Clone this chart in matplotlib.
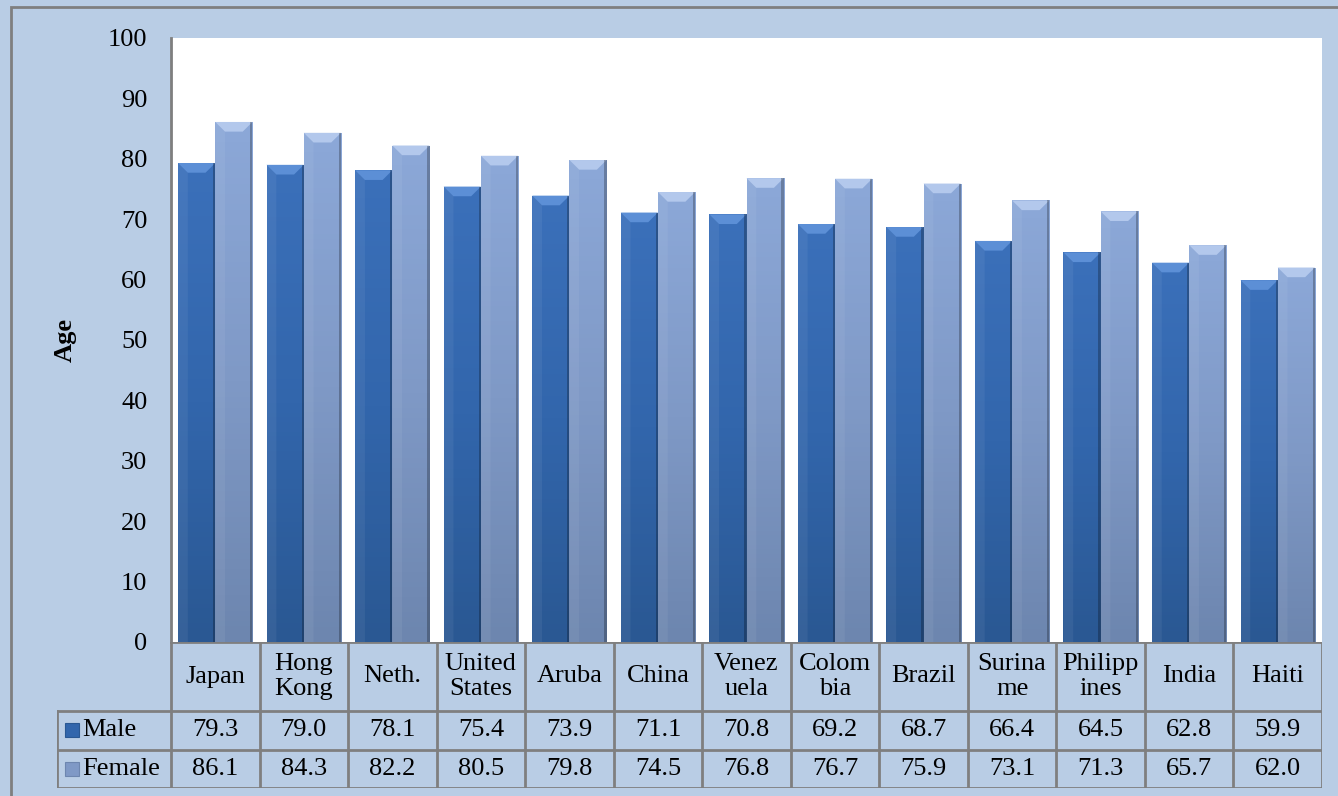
import numpy as np
import matplotlib
matplotlib.use('Agg')
import matplotlib.pyplot as plt
from matplotlib.patches import Rectangle, Polygon
from matplotlib.colors import LinearSegmentedColormap

countries = ['Japan', 'Hong\nKong', 'Neth.', 'United\nStates', 'Aruba', 'China', 'Venez\nuela',
             'Colom\nbia', 'Brazil', 'Surina\nme', 'Philipp\nines', 'India', 'Haiti']
male = [79.3, 79.0, 78.1, 75.4, 73.9, 71.1, 70.8, 69.2, 68.7, 66.4, 64.5, 62.8, 59.9]
female = [86.1, 84.3, 82.2, 80.5, 79.8, 74.5, 76.8, 76.7, 75.9, 73.1, 71.3, 65.7, 62.0]
series_names = ['Male', 'Female']
yticks = list(range(0, 101, 10))

W, H = 1338, 796
bg = '#B9CDE5'
grid_c = '#7F7F7F'
male_cmap = LinearSegmentedColormap.from_list('m', ['#2A5893', '#3266AC', '#3B70BA'])
female_cmap = LinearSegmentedColormap.from_list('f', ['#6D86AF', '#7F99C6', '#8CA8D8'])
bevel_c = ['#5C8FD6', '#B3C8EC']

plt.rcParams['font.family'] = ['Liberation Serif', 'DejaVu Serif']
FS = 19

fig = plt.figure(figsize=(W / 100, H / 100), dpi=100, facecolor=bg)

def fx(px):
    return px / W

def fy(py):
    return 1 - py / H

# outer border
fig.patches.append(Rectangle((fx(11), -0.05), 1.2, fy(7) + 0.05, transform=fig.transFigure,
                             fill=False, edgecolor=grid_c, linewidth=2))

left, right, top, bottom = 171, 1322, 38, 642
ax = fig.add_axes([fx(left), fy(bottom), fx(right) - fx(left), fy(top) - fy(bottom)])
ax.set_facecolor('white')
n = len(countries)
x = np.arange(n)
w = 0.42
bx = 0.11   # bevel width (data units)
by = 1.6    # bevel height

def grad_bars(xpos, vals, cmap, bcol):
    bars = ax.bar(xpos, vals, w, color=cmap(0.5), edgecolor='none', zorder=2)
    grad = np.linspace(1, 0, 100).reshape(-1, 1)
    for b in bars:
        x0 = b.get_x()
        h = b.get_height()
        im = ax.imshow(grad, cmap=cmap, aspect='auto', extent=[x0, x0 + w, 0, h],
                       vmin=0, vmax=1, zorder=3)
        im.set_clip_path(b)
        # bevel at top
        ax.add_patch(Polygon([(x0, h), (x0 + w, h), (x0 + w - bx, h - by), (x0 + bx, h - by)],
                             closed=True, facecolor=bcol, edgecolor='none', zorder=4))
        ax.add_patch(Polygon([(x0, h), (x0 + bx, h - by), (x0 + bx, 0), (x0, 0)],
                             closed=True, facecolor='white', alpha=0.06, edgecolor='none', zorder=4))
        ax.add_patch(Rectangle((x0 + w - 0.025, 0), 0.025, h, facecolor='black', alpha=0.25,
                               edgecolor='none', zorder=4))
    return bars

grad_bars(x - w / 2, male, male_cmap, bevel_c[0])
grad_bars(x + w / 2, female, female_cmap, bevel_c[1])

ax.set_xlim(-0.5, n - 0.5)
ax.set_ylim(0, 100)
ax.set_yticks(yticks)
ax.tick_params(axis='y', length=0, labelsize=FS, pad=17)
ax.set_xticks([])
for s in ['top', 'right', 'bottom']:
    ax.spines[s].set_visible(False)
ax.spines['left'].set_color(grid_c)
ax.spines['left'].set_linewidth(2)

fig.text(fx(65), fy(340), 'Age', rotation=90, ha='center', va='center',
         fontsize=FS, fontweight='bold')

# data table
tab = fig.add_axes([fx(57), fy(788), fx(right) - fx(57), fy(bottom) - fy(788)])
tab.set_axis_off()
label_w = (left - 57) / ((right - left) / n)
tab.set_xlim(-0.5 - label_w, n - 0.5)
tab.set_ylim(0, 788 - bottom)
h_head = 711 - bottom
h_row = (788 - 711) / 2
lc = dict(color=grid_c, linewidth=2, solid_capstyle='projecting')
y_rows = [788 - 711, h_row, 0]
tab.plot([-0.5, n - 0.5], [788 - bottom, 788 - bottom], **lc)
for yy in y_rows:
    tab.plot([-0.5 - label_w, n - 0.5], [yy, yy], **lc)
for i in range(n + 1):
    tab.plot([i - 0.5, i - 0.5], [0, 788 - bottom], **lc)
tab.plot([-0.5 - label_w, -0.5 - label_w], [0, 788 - 711], **lc)

for i, c in enumerate(countries):
    tab.text(i, 788 - bottom - h_head / 2, c, ha='center', va='center', fontsize=FS,
             linespacing=1.2)
    tab.text(i, y_rows[0] - h_row / 2, f'{male[i]:.1f}', ha='center', va='center', fontsize=FS)
    tab.text(i, y_rows[1] - h_row / 2, f'{female[i]:.1f}', ha='center', va='center', fontsize=FS)

for k, (name, cmap) in enumerate(zip(series_names, [male_cmap, female_cmap])):
    yc = y_rows[k] - h_row / 2
    kx = -0.5 - label_w + 0.09
    tab.add_patch(Rectangle((kx, yc - 7), 0.16, 14, facecolor=cmap(0.5),
                            edgecolor=cmap(0.0), linewidth=0.8))
    tab.text(kx + 0.19, yc, name, ha='left', va='center', fontsize=FS)

fig.savefig('out.png', dpi=100, facecolor=bg)
